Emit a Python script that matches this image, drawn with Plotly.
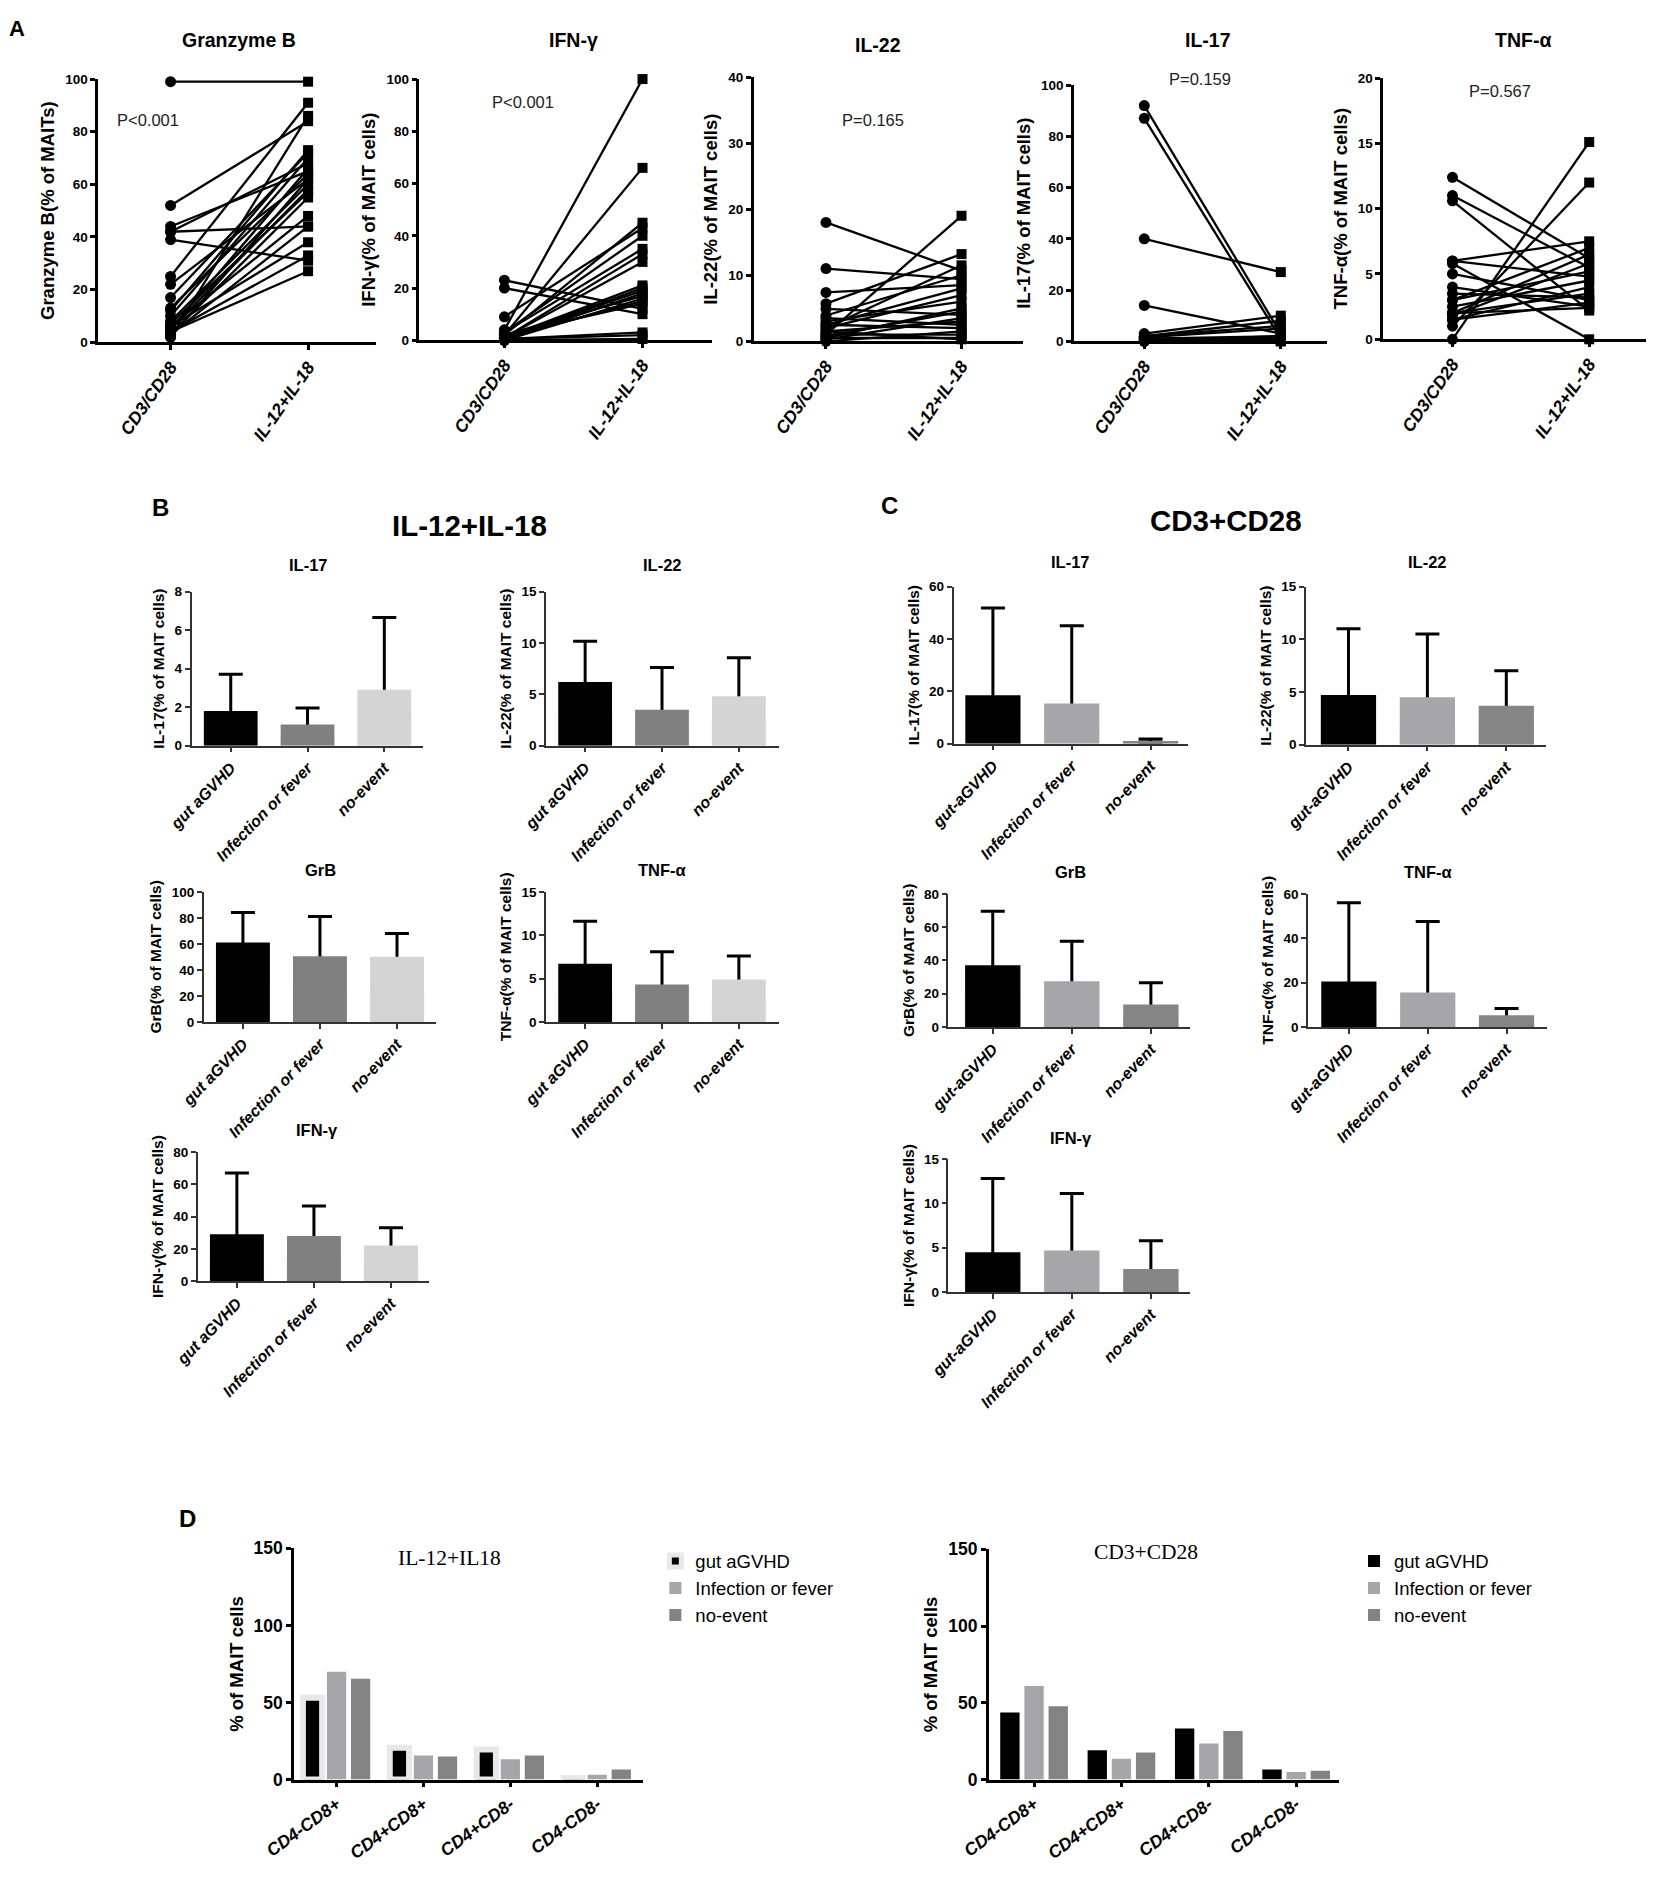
import plotly.graph_objects as go

W, H = 1654, 1883
SANS = "Liberation Sans, Arial, sans-serif"
SERIF = "Liberation Serif, Times New Roman, serif"

# ---- panel A: paired values (CD3/CD28 vs IL-12+IL-18)
stim = ["CD3/CD28", "IL-12+IL-18"]

grzb_cd3 = [99, 52, 44, 42, 42, 39, 25, 22, 17, 13, 10, 6, 5, 4, 3, 2, 6, 8, 12, 3, 5, 2, 4, 7]
grzb_il12 = [99, 84, 65, 44, 68, 31, 91, 62, 72, 64, 70, 38, 58, 27, 55, 86, 48, 60, 73, 44, 66, 62, 33, 57]

ifng_cd3 = [4, 2, 23, 20, 9, 3, 2, 1, 1, 0.5, 0, 0, 1, 2, 3, 0.5, 1, 0, 2, 1, 0.5]
ifng_il12 = [100, 66, 12, 10, 43, 40, 45, 33, 30, 20, 18, 16, 21, 14, 35, 3, 19, 0.5, 17, 15, 2]

il22_cd3 = [18, 11, 7.4, 5.7, 4.9, 3.9, 3, 2.5, 2, 1.5, 1, 1, 0.5, 0.5, 0, 3.5, 2.5, 1.5, 0.8, 0.3, 2]
il22_il12 = [10.7, 9.4, 8.5, 13.2, 4, 10, 6, 2, 7, 3, 19, 1, 5, 0.5, 1.5, 2.5, 8, 0.3, 4.5, 3.5, 11.5]

il17_cd3 = [92, 87, 40, 14, 3, 2, 1.5, 1, 1, 0.5, 0.5, 0, 0, 2, 1]
il17_il12 = [3, 1, 27, 3, 10, 8, 5, 2, 1, 0.5, 0, 1, 2, 6, 0]

tnfa_cd3 = [12.4, 11, 10.6, 6, 5.8, 5, 4, 3, 3, 2.5, 2, 2, 1.5, 1.5, 1, 0, 6, 2, 1.8, 3.5]
tnfa_il12 = [6.2, 5.5, 2.2, 7.5, 0, 3, 2.5, 7, 5.2, 4.5, 3.5, 6.5, 2.8, 4, 12, 15.1, 4.8, 2.4, 5.8, 3.2]

# ---- panels B and C: mean and upper error (mean + SD)
groups_b = ["gut aGVHD", "Infection or fever", "no-event"]
groups_c = ["gut-aGVHD", "Infection or fever", "no-event"]

b_il17 = [1.8, 1.1, 2.9];    b_il17_top = [3.7, 1.95, 6.65]
b_il22 = [6.2, 3.5, 4.8];    b_il22_top = [10.15, 7.6, 8.55]
b_grb = [61, 50.5, 50];      b_grb_top = [84, 81, 68]
b_tnf = [6.7, 4.3, 4.9];     b_tnf_top = [11.6, 8.1, 7.6]
b_ifn = [29, 28, 22];        b_ifn_top = [67, 46.5, 33]

c_il17 = [18.5, 15.3, 1.0];  c_il17_top = [51.8, 45, 1.8]
c_il22 = [4.7, 4.5, 3.7];    c_il22_top = [11, 10.5, 7]
c_grb = [37, 27.5, 13.5];    c_grb_top = [69.5, 51.5, 26.5]
c_tnf = [20.5, 15.5, 5.3];   c_tnf_top = [56, 47.5, 8.3]
c_ifn = [4.5, 4.7, 2.6];     c_ifn_top = [12.8, 11.1, 5.8]

# ---- panel D: MAIT subsets
subsets = ["CD4-CD8+", "CD4+CD8+", "CD4+CD8-", "CD4-CD8-"]
legend_names = ["gut aGVHD", "Infection or fever", "no-event"]
d_il12_gut = [53, 20.6, 19.5, 1]
d_il12_inf = [70, 15.6, 13.2, 3.2]
d_il12_none = [65.4, 15, 15.6, 6.5]
d_cd3_gut = [43.7, 19.1, 33.3, 6.5]
d_cd3_inf = [60.9, 13.5, 23.5, 5]
d_cd3_none = [47.8, 17.6, 31.7, 5.7]

colors_b = ["#000000", "#808080", "#d4d4d4"]
colors_c = ["#000000", "#a6a6aa", "#858585"]
colors_d = ["#000000", "#a6a6aa", "#838383"]

# the photographed page shows the figure slightly shifted and shrunk, so the
# pixel positions taken from the reference are mapped back before use
OX, SX = 34, 0.9775
OY, SY = 16, 0.9885


def fx(p):
    return (p - OX) / SX


def fy(p):
    return (p - OY) / SY


def dom_x(a, b):
    return [fx(a) / W, fx(b) / W]


def dom_y(top, bottom):
    return [1 - fy(bottom) / H, 1 - fy(top) / H]


fig = go.Figure()
layout = {}
annotations = []


def note(text, x, y, size, family=SANS, bold=True, color="black"):
    annotations.append(dict(
        text=text, x=fx(x) / W, y=min(1 - fy(y) / H, 1 - 11 / H), xref="paper", yref="paper",
        showarrow=False, xanchor="center", yanchor="middle",
        font=dict(size=size, family=family, color=color, weight="bold" if bold else "normal"),
    ))


def axes(i, xd, yd, xr, yr, dtick, ticktext, ytitle, style):
    if style == "A":
        lw, angle, lc = 2.5, -55, "black"
        tk_font = dict(size=13.5, family=SANS, weight="bold")
        x_font = dict(size=17.5, family=SANS, weight="bold", style="italic")
        y_title_font = dict(size=18.5, family=SANS, weight="bold")
    elif style == "BC":
        lw, angle, lc = 1.5, -46, "#333333"
        tk_font = dict(size=13.5, family=SANS, weight="bold")
        x_font = dict(size=16, family=SANS, weight="bold", style="italic")
        y_title_font = dict(size=15.5, family=SANS, weight="bold")
    else:
        lw, angle, lc = 2.5, -36, "black"
        tk_font = dict(size=17.5, family=SANS, weight="bold")
        x_font = dict(size=17.5, family=SANS, weight="bold", style="italic")
        y_title_font = dict(size=18.5, family=SANS, weight="bold")
    n = "" if i == 1 else str(i)
    layout["xaxis" + n] = dict(
        domain=dom_x(*xd), anchor="y" + n, range=xr, showgrid=False, zeroline=False,
        showline=True, linecolor=lc, linewidth=lw, ticks="outside", ticklen=5,
        tickwidth=lw, tickcolor=lc, tickvals=list(range(len(ticktext))), ticktext=ticktext,
        tickangle=angle, tickfont=x_font, fixedrange=True,
    )
    layout["yaxis" + n] = dict(
        domain=dom_y(*yd), anchor="x" + n, range=yr, dtick=dtick, showgrid=False,
        zeroline=False, showline=True, linecolor=lc, linewidth=lw, ticks="outside",
        ticklen=5, tickwidth=lw, tickcolor=lc, tickfont=tk_font,
        title=dict(text=ytitle, font=y_title_font, standoff=6), fixedrange=True,
    )
    return "x" + n, "y" + n


# ---------------- panel A ----------------
panel_a = [
    (grzb_cd3, grzb_il12, (93, 370), (77, 340), [-0.526, 1.496], [0, 100], 20, "Granzyme B(% of MAITs)"),
    (ifng_cd3, ifng_il12, (413, 704), (77, 338), [-0.615, 1.5], [0, 100], 20, "IFN-γ(% of MAIT cells)"),
    (il22_cd3, il22_il12, (746, 1014), (75, 339), [-0.533, 1.452], [0, 40], 10, "IL-22(% of MAIT cells)"),
    (il17_cd3, il17_il12, (1065, 1317), (83, 339), [-0.515, 1.338], [0, 100], 20, "IL-17(% of MAIT cells)"),
    (tnfa_cd3, tnfa_il12, (1373, 1645), (76, 337), [-0.507, 1.49], [0, 20], 5, "TNF-α(% of MAIT cells)"),
]
for k, (left, right, xd, yd, xr, yr, dt, yt) in enumerate(panel_a, start=1):
    xa, ya = axes(k, xd, yd, xr, yr, dt, stim, yt, "A")
    lx, ly = [], []
    for a, b in zip(left, right):
        lx += [0, 1, None]
        ly += [a, b, None]
    fig.add_trace(go.Scatter(x=lx, y=ly, mode="lines", line=dict(color="black", width=2.3),
                             xaxis=xa, yaxis=ya, showlegend=False, cliponaxis=False, hoverinfo="skip"))
    fig.add_trace(go.Scatter(x=[0] * len(left), y=left, mode="markers",
                             marker=dict(symbol="circle", size=11, color="black"),
                             xaxis=xa, yaxis=ya, showlegend=False, cliponaxis=False))
    fig.add_trace(go.Scatter(x=[1] * len(right), y=right, mode="markers",
                             marker=dict(symbol="square", size=10, color="black"),
                             xaxis=xa, yaxis=ya, showlegend=False, cliponaxis=False))

note("A", 12, 16, 22)
for txt, x in [("Granzyme B", 233), ("IFN-γ", 566), ("IL-22", 870), ("IL-17", 1199), ("TNF-α", 1512)]:
    note(txt, x, 38 if txt != "IL-22" else 43, 19.5)
for txt, x, y in [("P<0.001", 143, 118), ("P<0.001", 516, 100), ("P=0.165", 865, 118),
                  ("P=0.159", 1191, 77), ("P=0.567", 1489, 89)]:
    note(txt, x, y, 16.5, bold=False, color="#222222")

# ---------------- panels B and C ----------------
panel_bc = [
    (b_il17, b_il17_top, groups_b, colors_b, (186, 417), (589, 743), [-0.51, 2.51], [0, 8], 2, "IL-17", (302, 563)),
    (b_il22, b_il22_top, groups_b, colors_b, (539, 771), (589, 743), [-0.51, 2.52], [0, 15], 5, "IL-22", (655, 563)),
    (b_grb, b_grb_top, groups_b, colors_b, (198, 429), (889, 1019), [-0.51, 2.5], [0, 100], 20, "GrB", (314, 867)),
    (b_tnf, b_tnf_top, groups_b, colors_b, (539, 771), (889, 1019), [-0.51, 2.52], [0, 15], 5, "TNF-α", (655, 867)),
    (b_ifn, b_ifn_top, groups_b, colors_b, (192, 423), (1149, 1278), [-0.51, 2.5], [0, 80], 20, "IFN-γ", (311, 1127)),
    (c_il17, c_il17_top, groups_c, colors_c, (945, 1179), (584, 741), [-0.5, 2.48], [0, 60], 20, "IL-17", (1062, 560)),
    (c_il22, c_il22_top, groups_c, colors_c, (1296, 1535), (584, 742), [-0.54, 2.5], [0, 15], 5, "IL-22", (1417, 560)),
    (c_grb, c_grb_top, groups_c, colors_c, (940, 1181), (891, 1024), [-0.56, 2.5], [0, 80], 20, "GrB", (1062, 869)),
    (c_tnf, c_tnf_top, groups_c, colors_c, (1298, 1536), (891, 1024), [-0.52, 2.51], [0, 60], 20, "TNF-α", (1418, 869)),
    (c_ifn, c_ifn_top, groups_c, colors_c, (940, 1181), (1156, 1289), [-0.56, 2.5], [0, 15], 5, "IFN-γ", (1062, 1135)),
]
for k, (mean, top, cats, cols, xd, yd, xr, yr, dt, name, tpos) in enumerate(panel_bc, start=6):
    xa, ya = axes(k, xd, yd, xr, yr, dt, cats, name + "(% of MAIT cells)", "BC")
    pos = list(range(len(cats)))
    # transparent carrier bar (half height) holds the upper error bar so that its
    # lower cap sits inside the visible bar drawn on top of it
    carrier = [m / 2 for m in mean]
    fig.add_trace(go.Bar(x=pos, y=carrier, width=0.7, marker=dict(color="rgba(0,0,0,0)"),
                         error_y=dict(type="data", symmetric=False,
                                      array=[t - c for t, c in zip(top, carrier)],
                                      arrayminus=[0] * len(mean), color="black",
                                      thickness=3, width=12),
                         offsetgroup="g%d" % k, xaxis=xa, yaxis=ya, showlegend=False,
                         hoverinfo="skip"))
    fig.add_trace(go.Bar(x=pos, y=mean, width=0.7, marker=dict(color=cols, line=dict(width=0)),
                         offsetgroup="g%d" % k, xaxis=xa, yaxis=ya, showlegend=False))
    note(name, tpos[0], tpos[1], 16.5)

note("B", 155, 505, 24)
note("C", 881, 503, 24)
note("IL-12+IL-18", 463, 523, 29.5)
note("CD3+CD28", 1216, 518, 29.5)

# ---------------- panel D ----------------
panel_d = [
    ((d_il12_gut, d_il12_inf, d_il12_none), (288, 636), (1545, 1776), [-0.49, 3.53], "legend", "IL-12+IL18", (443, 1555)),
    ((d_cd3_gut, d_cd3_inf, d_cd3_none), (980, 1329), (1546, 1776), [-0.52, 3.49], "legend2", "CD3+CD28", (1137, 1549)),
]
for k, (series, xd, yd, xr, leg, title, tpos) in enumerate(panel_d, start=16):
    xa, ya = axes(k, xd, yd, xr, [0, 150], 50, subsets, "% of MAIT cells", "D")
    for j, (vals, nm, col) in enumerate(zip(series, legend_names, colors_d)):
        halo = (k == 16 and j == 0)
        fig.add_trace(go.Bar(x=list(range(len(subsets))), y=vals, name=nm,
                             marker=dict(color=col, line=dict(color="#e8e8e8" if halo else col,
                                                              width=6 if halo else 0)),
                             offsetgroup="d%d_%d" % (k, j), legend=leg, xaxis=xa, yaxis=ya))
    note(title, tpos[0], tpos[1], 21.5, family=SERIF, bold=False)

note("D", 181.5, 1515, 24)

legend_style = dict(font=dict(size=18.5, family=SANS, color="black"), bgcolor="rgba(0,0,0,0)",
                    tracegroupgap=0, itemclick=False, itemdoubleclick=False,
                    xanchor="left", yanchor="top", yref="paper", xref="paper")
layout["legend"] = dict(legend_style, x=fx(648) / W, y=1 - fy(1539) / H)
layout["legend2"] = dict(legend_style, x=fx(1344) / W, y=1 - fy(1539) / H)

fig.update_layout(
    **layout,
    annotations=annotations,
    width=W, height=H,
    margin=dict(l=0, r=0, t=0, b=0),
    paper_bgcolor="white", plot_bgcolor="white",
    barmode="group", bargap=0.17, bargroupgap=0.2,
    font=dict(family=SANS, color="black"),
)

fig.write_html("out.html")
